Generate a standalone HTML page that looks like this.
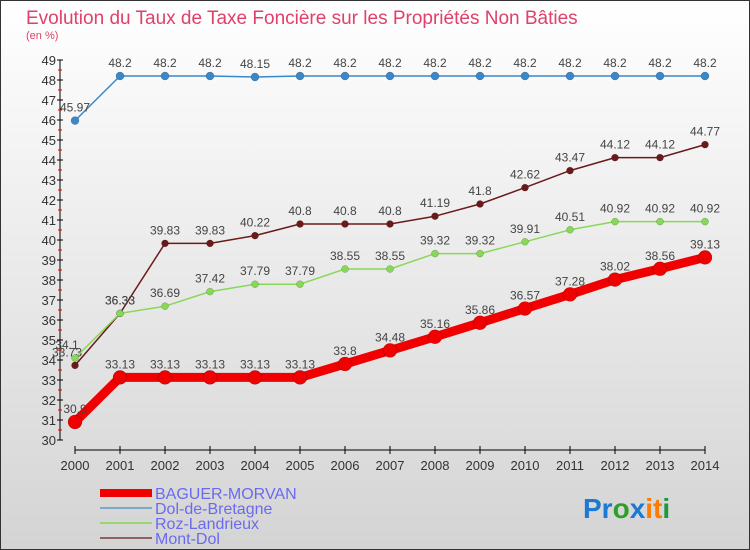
<!DOCTYPE html>
<html><head><meta charset="utf-8"><style>
body{margin:0}
#c{width:750px;height:550px;position:relative;background:linear-gradient(#ffffff,#d4d4d4);box-sizing:border-box;border:1px solid #333;overflow:hidden;font-family:"Liberation Sans",sans-serif}
</style></head><body>
<div id="c">
<svg id="s" width="750" height="550" style="position:absolute;left:-1px;top:-1px">
<text x="26" y="24" font-size="19" fill="#e0406a">Evolution du Taux de Taxe Foncière sur les Propriétés Non Bâties</text>
<text x="26" y="39" font-size="11" fill="#e0406a">(en %)</text>
<g id="axes"></g><g id="series"></g><g id="legend"></g>
<text x="583" y="518" font-size="28" font-weight="bold"><tspan fill="#1a7ad4">Pr</tspan><tspan fill="#2aa02a">o</tspan><tspan fill="#1a7ad4">x</tspan><tspan fill="#ff7a00">i</tspan><tspan fill="#ff7a00">t</tspan><tspan fill="#1a9a3a">i</tspan></text>
</svg></div>
<script>
const years=[2000,2001,2002,2003,2004,2005,2006,2007,2008,2009,2010,2011,2012,2013,2014];
const baguer=[30.9,33.13,33.13,33.13,33.13,33.13,33.8,34.48,35.16,35.86,36.57,37.28,38.02,38.56,39.13];
const dol=[45.97,48.2,48.2,48.2,48.15,48.2,48.2,48.2,48.2,48.2,48.2,48.2,48.2,48.2,48.2];
const roz=[34.1,36.33,36.69,37.42,37.79,37.79,38.55,38.55,39.32,39.32,39.91,40.51,40.92,40.92,40.92];
const mont=[33.73,36.33,39.83,39.83,40.22,40.8,40.8,40.8,41.19,41.8,42.62,43.47,44.12,44.12,44.77];
const baguerLabels=["30.9","33.13","33.13","33.13","33.13","33.13","33.8","34.48","35.16","35.86","36.57","37.28","38.02","38.56","39.13"];
const yTicks=[30,31,32,33,34,35,36,37,38,39,40,41,42,43,44,45,46,47,48,49];
const NS="http://www.w3.org/2000/svg";
const X=i=>75+i*45;const Y=v=>440-(v-30)*20;
function mk(t,a,p){const e=document.createElementNS(NS,t);for(const k in a)e.setAttribute(k,a[k]);p.appendChild(e);return e;}
const ax=document.getElementById('axes');
let l=mk('line',{x1:60,y1:60,x2:60,y2:440,stroke:'#000','stroke-width':1},ax);

yTicks.forEach(v=>{let t=mk('line',{x1:57,x2:63,y1:Y(v),y2:Y(v),stroke:'#000'},ax);

let tx=mk('text',{x:56,y:Y(v)+5,'text-anchor':'end','font-size':13,fill:'#333'},ax);tx.textContent=v;

if(v<49){let r=mk('line',{x1:58,x2:62,y1:Y(v+0.5),y2:Y(v+0.5),stroke:'#e00'},ax);}});
l=mk('line',{x1:75,y1:450,x2:705,y2:450,stroke:'#000'},ax);

years.forEach((y,i)=>{let t=mk('line',{x1:X(i),x2:X(i),y1:446,y2:454,stroke:'#000'},ax);

let tx=mk('text',{x:X(i),y:470,'text-anchor':'middle','font-size':13,fill:'#333'},ax);tx.textContent=y;
});
const sg=document.getElementById('series');
function series(vals,labels,color,w,r,name,dx){
 const g=mk('g',{},sg);
 let p=mk('polyline',{points:vals.map((v,i)=>X(i)+','+Y(v)).join(' '),fill:'none',stroke:color,'stroke-width':w,'stroke-linejoin':'round'},g);
 
 vals.forEach((v,i)=>{let c=mk('circle',{cx:X(i),cy:Y(v),r:r,fill:color,stroke:'rgba(0,0,0,0.3)','stroke-width':0.5},g);
 
 let t=mk('text',{x:X(i)+(i==0?dx:0),y:Y(v)-9,'text-anchor':'middle','font-size':12,fill:'#444'},g);t.textContent=labels?labels[i]:v;
 });
}
series(mont,null,'#6b1a1a',1.5,3.5,'mont-dol',-8);
series(roz,null,'#88d858',1.5,3.5,'roz-landrieux',-8);
series(dol,null,'#3a88c8',1.5,4,'dol-de-bretagne',0);
series(baguer,baguerLabels,'#f00000',9,7,'baguer-morvan',0);
const lg=document.getElementById('legend');
[['BAGUER-MORVAN','#f00000',8],['Dol-de-Bretagne','#80a8c8',2],['Roz-Landrieux','#98d870',2],['Mont-Dol','#906060',2]].forEach((d,i)=>{
 const y=493+i*15;let g=mk('g',{},lg);
 mk('line',{x1:100,x2:152,y1:y,y2:y,stroke:d[1],'stroke-width':d[2]},g);
 let t=mk('text',{x:155,y:y+6,'font-size':16,fill:'#6a6af0'},g);t.textContent=d[0];});
</script></body></html>
